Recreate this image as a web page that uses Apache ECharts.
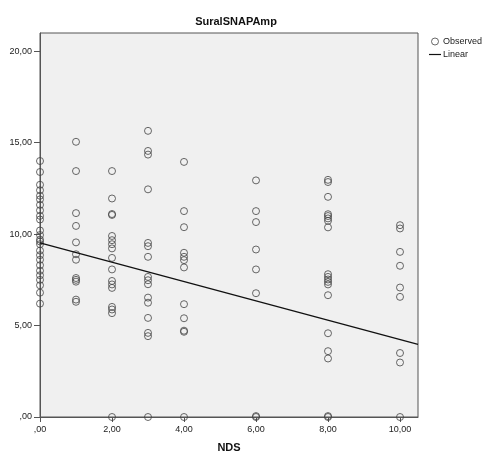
<!DOCTYPE html>
<html>
<head>
<meta charset="utf-8">
<script src="https://cdn.jsdelivr.net/npm/echarts@6/dist/echarts.min.js"></script>
<style>
html,body{margin:0;padding:0;background:#fff;}
#c{width:494px;height:456px;}
</style>
</head>
<body>
<div id="c"></div>
<script>
// NDS levels and observed SuralSNAPAmp values at each level
var ndsLevels = [0, 1, 2, 3, 4, 6, 8, 10];
var ampNds0 = [14.0, 13.4, 12.7, 12.4, 12.1, 11.9, 11.6, 11.3, 11.0, 10.8, 10.2, 9.95, 9.7, 9.6, 9.45, 9.1, 8.85, 8.6, 8.3, 8.0, 7.75, 7.5, 7.2, 6.8, 6.2];
var ampNds1 = [15.05, 13.45, 11.15, 10.45, 9.55, 8.9, 8.6, 7.6, 7.5, 7.4, 6.42, 6.3];
var ampNds2 = [13.45, 11.95, 11.1, 11.05, 9.9, 9.67, 9.45, 9.22, 8.7, 8.07, 7.44, 7.25, 7.06, 6.02, 5.88, 5.68, 0.0];
var ampNds3 = [15.65, 14.55, 14.35, 12.45, 9.52, 9.34, 8.76, 7.66, 7.48, 7.26, 6.53, 6.25, 5.42, 4.6, 4.42, 0.0];
var ampNds4 = [13.95, 11.26, 10.38, 8.98, 8.76, 8.58, 8.18, 6.17, 5.4, 4.72, 4.66, 0.0];
var ampNds6 = [12.94, 11.26, 10.66, 9.16, 8.07, 6.77, 0.0, 0.05];
var ampNds8 = [12.97, 12.85, 12.04, 11.09, 10.99, 10.86, 10.73, 10.37, 7.81, 7.66, 7.52, 7.39, 7.25, 6.66, 4.58, 3.6, 3.2, 0.0, 0.05];
var ampNds10 = [10.49, 10.31, 9.03, 8.27, 7.08, 6.57, 3.5, 2.98, 0.0];
// Linear fit line endpoints
var fitX = [0, 10.5];
var fitY = [9.52, 3.97];
// Tick labels
var xTicks = [0, 2, 4, 6, 8, 10];
var yTicks = [0, 5, 10, 15, 20];

var groups = [ampNds0, ampNds1, ampNds2, ampNds3, ampNds4, ampNds6, ampNds8, ampNds10];
var observed = [];
groups.forEach(function (arr, i) {
  arr.forEach(function (v) { observed.push([ndsLevels[i], v]); });
});
var fitData = fitX.map(function (x, i) { return [x, fitY[i]]; });

function fmt(v) {
  if (v === 0) return ',00';
  return v.toFixed(2).replace('.', ',');
}

var FONT = 'Liberation Sans, Arial, sans-serif';
var chart = echarts.init(document.getElementById('c'));
chart.setOption({
  animation: false,
  backgroundColor: '#ffffff',
  title: {
    text: 'SuralSNAPAmp',
    left: 231,
    textAlign: 'center',
    top: 11,
    textStyle: { fontFamily: FONT, fontSize: 11, fontWeight: 'bold', color: '#111' }
  },
  legend: {
    orient: 'vertical',
    left: 429,
    top: 37,
    itemWidth: 12,
    itemHeight: 7,
    itemGap: 4,
    padding: 0,
    symbolKeepAspect: true,
    textStyle: { fontFamily: FONT, fontSize: 9, color: '#222', padding: [0, 0, 0, -3] },
    data: [
      { name: 'Observed', icon: 'circle', itemStyle: { color: 'transparent', borderColor: '#444', borderWidth: 1 } },
      { name: 'Linear', icon: 'path://M0,0L12,0L12,1.2L0,1.2Z', itemStyle: { color: '#111', borderWidth: 0 } }
    ]
  },
  grid: {
    left: 40, top: 33, right: 76, bottom: 39,
    outerBoundsMode: 'none',
    containLabel: false,
    show: true,
    backgroundColor: '#f0f0f0',
    borderColor: '#555',
    borderWidth: 1
  },
  xAxis: {
    type: 'value',
    min: 0, max: 10.5,
    name: 'NDS',
    nameLocation: 'middle',
    nameGap: 25,
    nameTextStyle: { fontFamily: FONT, fontSize: 11, fontWeight: 'bold', color: '#111' },
    axisLine: { show: true, lineStyle: { color: '#555', width: 1 } },
    axisTick: { show: true, length: 5, lineStyle: { color: '#555' }, customValues: xTicks },
    axisLabel: { customValues: xTicks, formatter: fmt, fontFamily: FONT, fontSize: 9, color: '#222', margin: 8 },
    splitLine: { show: false }
  },
  yAxis: {
    type: 'value',
    min: 0, max: 21,
    axisLine: { show: true, lineStyle: { color: '#555', width: 1 } },
    axisTick: { show: true, length: 6, lineStyle: { color: '#555' }, customValues: yTicks },
    axisLabel: { customValues: yTicks, formatter: fmt, fontFamily: FONT, fontSize: 9, color: '#222', margin: 8 },
    splitLine: { show: false }
  },
  series: [
    {
      name: 'Observed',
      type: 'scatter',
      symbol: 'circle',
      symbolSize: 7,
      clip: false,
      itemStyle: { color: 'transparent', borderColor: '#444', borderWidth: 1 },
      data: observed,
      z: 3
    },
    {
      name: 'Linear',
      type: 'line',
      symbol: 'none',
      lineStyle: { color: '#111', width: 1.3 },
      itemStyle: { color: '#111' },
      data: fitData,
      z: 4
    }
  ]
});
</script>
</body>
</html>
